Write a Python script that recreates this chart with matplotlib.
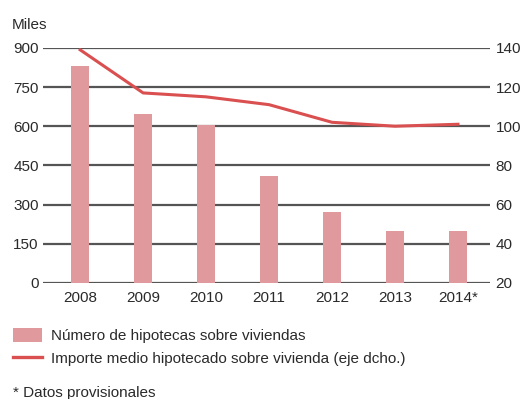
import matplotlib
matplotlib.use("Agg")
import numpy as np
import matplotlib.pyplot as plt
from matplotlib.patches import Patch
from matplotlib.lines import Line2D

plt.rcParams['font.family'] = ['Liberation Sans', 'DejaVu Sans']

# %%
years = ["2008", "2009", "2010", "2011", "2012", "2013", "2014*"]
hipotecas = [830, 648, 605, 408, 273, 200, 200]          # miles
importe_medio = [139, 117, 115, 111, 102, 100, 101]        # eje dcho.

bar_color = "#e09a9d"
line_color = "#da4f4f"
grid_color = "#555555"
text_color = "#2a2a2a"

# %%
fig = plt.figure(figsize=(5.31, 3.99), dpi=100)
ax = fig.add_axes([0.081, 0.291, 0.842, 0.589])
ax2 = ax.twinx()

x = np.arange(len(years))
ax.bar(x, hipotecas, width=0.29, color=bar_color, zorder=3)
ax2.plot(x, importe_medio, color=line_color, lw=2.2, zorder=4)

ax.set_ylim(0, 900)
ax.set_yticks(range(0, 901, 150))
ax2.set_ylim(20, 140)
ax2.set_yticks(range(20, 141, 20))
ax.set_xlim(-0.59, 6.51)
ax.set_xticks(x, years)

for v in range(0, 901, 150):
    ax.axhline(v, color=grid_color, lw=1.6, zorder=1)

for a in (ax, ax2):
    for s in a.spines.values():
        s.set_visible(False)
    a.tick_params(length=0, labelsize=11, colors=text_color)
ax.tick_params(axis="y", pad=3)
ax2.tick_params(axis="y", pad=4)
ax.tick_params(axis="x", pad=6)

fig.text(0.022, 0.92, "Miles", fontsize=11, color=text_color, va="bottom")

handles = [
    Patch(facecolor=bar_color, edgecolor="none"),
    Line2D([0], [0], color=line_color, lw=2.4),
]
labels = [
    "Número de hipotecas sobre viviendas",
    "Importe medio hipotecado sobre vivienda (eje dcho.)",
]
fig.legend(handles, labels, loc="upper left", bbox_to_anchor=(0.024, 0.178),
           frameon=False, fontsize=11, labelcolor=text_color,
           handlelength=1.9, handleheight=1.0, handletextpad=0.62,
           labelspacing=0.5, borderpad=0, borderaxespad=0)

fig.text(0.024, 0.005, "* Datos provisionales", fontsize=11, color=text_color)

fig.savefig("out.png", dpi=100)
